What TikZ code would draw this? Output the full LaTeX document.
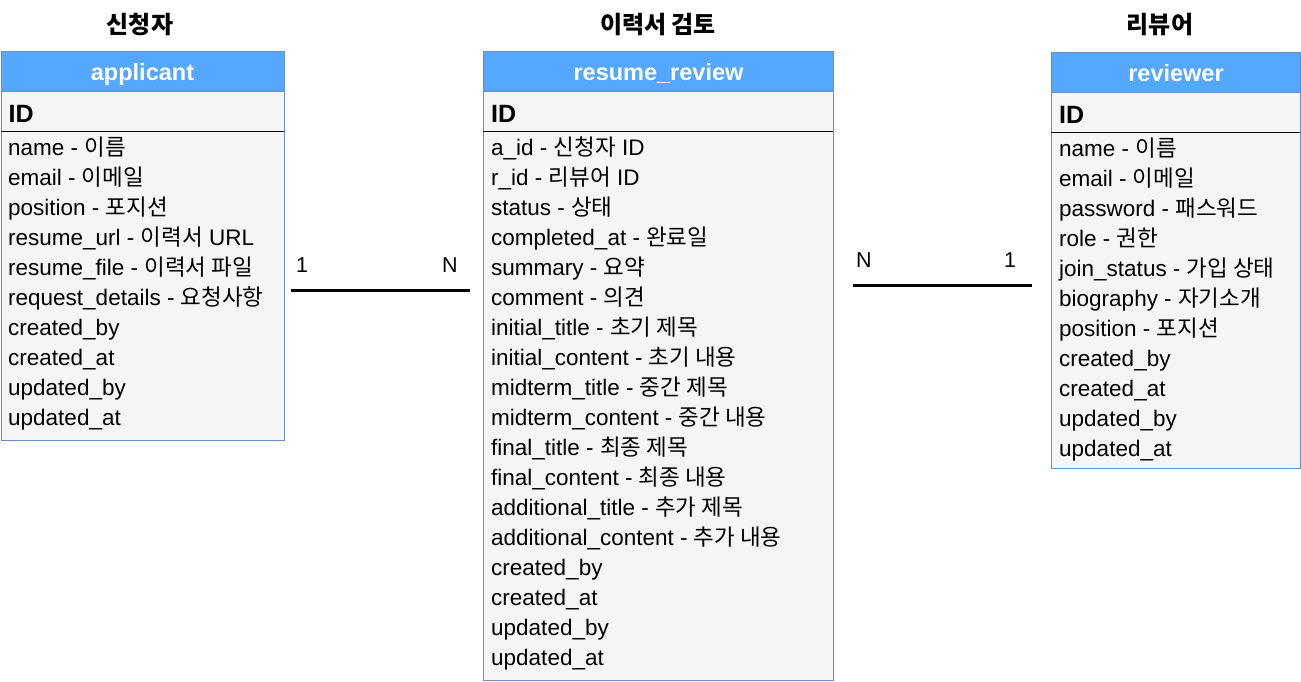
\documentclass[tikz,border=0pt]{standalone}
\usepackage{fontspec}
\setmainfont{Liberation Sans}
\newfontfamily\krfont{Noto Sans CJK KR}
\usetikzlibrary{positioning}
\usepackage{xcolor}
\definecolor{headblue}{HTML}{54A8FF}
\definecolor{lineblue}{HTML}{6C8EBF}
\definecolor{rowgray}{HTML}{F5F5F5}
\newcommand{\ko}[1]{{\krfont #1}}
\tikzstyle{title} = [font=\fontsize{24}{28}\selectfont\bfseries, anchor=base, inner sep=0pt]
\tikzstyle{tablebox} = [draw=lineblue, line width=1pt, fill=rowgray,
    anchor=north west, inner sep=0pt]
\tikzstyle{header} = [draw=lineblue, line width=1pt, fill=headblue,
    anchor=north west, inner sep=0pt, minimum height=40pt, text=white,
    text depth=0pt, font=\fontsize{23.5}{26}\selectfont\bfseries]
\tikzstyle{idrow} = [anchor=north west, inner sep=0pt, minimum height=39pt]
\tikzstyle{keyfield} = [font=\fontsize{25}{28}\selectfont\bfseries, inner sep=0pt]
\tikzstyle{field} = [font=\fontsize{22.5}{30}\selectfont, anchor=base west, inner sep=0pt]
\tikzstyle{card} = [font=\fontsize{21.5}{30}\selectfont, anchor=base, inner sep=0pt]
\tikzstyle{sep} = [line width=1pt, black]
\tikzstyle{rel} = [line width=3pt, black]

\begin{document}
\begin{tikzpicture}[x=1pt, y=-1pt]
        \useasboundingbox (0,0) rectangle (1301,681);

        % Titles
        \node (apptitle) [title] at (140,33) {\ko{신청자}};
        \node (revtitle) [title] at (658,33) {\ko{이력서 검토}};
        \node (usrtitle) [title] at (1160,33) {\ko{리뷰어}};

        % applicant
        \node (appbox) [tablebox, minimum width=283pt, minimum height=389pt] at (0.5,51) {};
        \node (apphead) [header, minimum width=283pt] at (appbox.north west) {applicant};
        \node (appidrow) [idrow, minimum width=283pt] at (apphead.south west) {};
        \draw [sep] (appidrow.south west) -- (appidrow.south east);
        \node (appid) [keyfield, right=8pt of appidrow.west, yshift=-2pt] {ID};
        \foreach \f [count=\i] in {name - \ko{이름}, email - \ko{이메일},
            position - \ko{포지션}, resume\_url - \ko{이력서} URL,
            resume\_file - \ko{이력서 파일}, request\_details - \ko{요청사항},
            created\_by, created\_at, updated\_by, updated\_at}
            \node (app-\i) [field] at (8,125+30*\i) {\f};

        % resume_review
        \node (revbox) [tablebox, minimum width=350pt, minimum height=629pt] at (483,51) {};
        \node (revhead) [header, minimum width=350pt] at (revbox.north west) {resume\_review};
        \node (revidrow) [idrow, minimum width=350pt] at (revhead.south west) {};
        \draw [sep] (revidrow.south west) -- (revidrow.south east);
        \node (revid) [keyfield, right=8pt of revidrow.west, yshift=-2pt] {ID};
        \foreach \f [count=\i] in {a\_id - \ko{신청자} ID, r\_id - \ko{리뷰어} ID,
            status - \ko{상태}, completed\_at - \ko{완료일}, summary - \ko{요약},
            comment - \ko{의견}, initial\_title - \ko{초기 제목},
            initial\_content - \ko{초기 내용}, midterm\_title - \ko{중간 제목},
            midterm\_content - \ko{중간 내용}, final\_title - \ko{최종 제목},
            final\_content - \ko{최종 내용}, additional\_title - \ko{추가 제목},
            additional\_content - \ko{추가 내용},
            created\_by, created\_at, updated\_by, updated\_at}
            \node (rev-\i) [field] at (491,125+30*\i) {\f};

        % reviewer
        \node (usrbox) [tablebox, minimum width=249pt, minimum height=416pt] at (1051,52) {};
        \node (usrhead) [header, minimum width=249pt] at (usrbox.north west) {reviewer};
        \node (usridrow) [idrow, minimum width=249pt] at (usrhead.south west) {};
        \draw [sep] (usridrow.south west) -- (usridrow.south east);
        \node (usrid) [keyfield, right=8pt of usridrow.west, yshift=-2pt] {ID};
        \foreach \f [count=\i] in {name - \ko{이름}, email - \ko{이메일},
            password - \ko{패스워드}, role - \ko{권한},
            join\_status - \ko{가입 상태}, biography - \ko{자기소개},
            position - \ko{포지션}, created\_by, created\_at,
            updated\_by, updated\_at}
            \node (usr-\i) [field] at (1059,126+30*\i) {\f};

        % Relations
        \coordinate (la) at (291,290);
        \coordinate (lb) at (470,290);
        \coordinate (ra) at (853,285);
        \coordinate (rb) at (1032,285);
        \draw [rel] (la) -- (lb);
        \draw [rel] (ra) -- (rb);
        \node (laone) [card, above right=18pt and 11pt of la, anchor=base] {1};
        \node (lbmany) [card, above left=18pt and 20pt of lb, anchor=base] {N};
        \node (ramany) [card, above right=18pt and 11pt of ra, anchor=base] {N};
        \node (rbone) [card, above left=18pt and 22pt of rb, anchor=base] {1};

    \end{tikzpicture}
\end{document}
